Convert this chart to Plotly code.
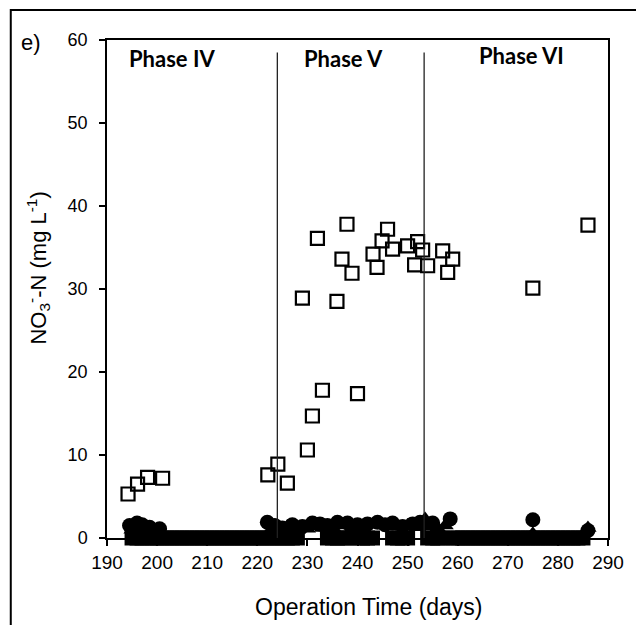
import plotly.graph_objects as go

# Open squares: NO3-N (mg/L)
sq_day = [194.2, 196.1, 198.1, 201.1, 222.1, 224.1, 226.0, 229.0, 230.0, 231.0,
          232.0, 233.0, 235.9, 236.9, 237.9, 238.9, 240.0, 243.1, 243.9, 244.9,
          246.0, 247.0, 250.0, 251.4, 252.0, 253.0, 254.0, 257.0, 258.0, 259.0,
          275.0, 286.0]
sq_val = [5.3, 6.5, 7.3, 7.2, 7.6, 8.9, 6.6, 28.9, 10.6, 14.7,
          36.1, 17.8, 28.5, 33.6, 37.8, 31.9, 17.4, 34.2, 32.6, 35.8,
          37.2, 34.8, 35.2, 32.9, 35.7, 34.7, 32.8, 34.6, 32.0, 33.6,
          30.1, 37.7]

# Filled circles
ci_day = [194.5, 196.0, 197.0, 198.5, 200.5, 222.0, 223.5, 225.0, 227.0, 229.0,
          231.0, 232.5, 234.0, 236.0, 238.0, 240.0, 242.0, 244.0, 245.5, 247.0,
          249.0, 251.0, 252.5, 255.0, 258.5, 275.0, 286.0]
ci_val = [1.5, 1.8, 1.6, 1.3, 1.1, 1.9, 1.5, 1.2, 1.6, 1.4,
          1.8, 1.7, 1.5, 1.9, 1.8, 1.6, 1.7, 1.9, 1.6, 1.8,
          1.4, 1.7, 1.9, 1.8, 2.3, 2.2, 0.9]

# Filled triangles
tr_day = [195.0, 197.5, 199.0, 223.0, 224.5, 226.0, 228.0, 230.0, 233.0, 235.0,
          237.0, 239.0, 241.0, 243.0, 246.0, 248.0, 250.0, 252.0, 253.5, 254.5,
          256.0, 257.5, 275.0, 286.0]
tr_val = [1.0, 1.2, 0.8, 1.2, 1.0, 1.4, 1.0, 1.1, 1.2, 1.3,
          1.5, 1.2, 1.3, 1.6, 1.5, 1.4, 1.5, 1.3, 2.3, 1.4,
          1.2, 1.5, 0.5, 1.2]

# Filled squares at zero (daily)
zero_day = (list(range(195, 229)) + [234, 235, 236, 237, 238, 240, 241, 242, 243,
            247, 248, 249, 250, 254, 255, 256, 257] + list(range(259, 286)))
zero_val = [0.0] * len(zero_day)

phase_names = ["Phase IV", "Phase V", "Phase VI"]
phase_label_x = [202.9, 237.3, 272.8]
phase_bounds = [224.0, 253.3]

fig = go.Figure()
fig.add_trace(go.Scatter(x=zero_day, y=zero_val, mode="markers", cliponaxis=False,
                         marker=dict(symbol="square", size=15, color="black")))
fig.add_trace(go.Scatter(x=tr_day, y=tr_val, mode="markers", cliponaxis=False,
                         marker=dict(symbol="triangle-up", size=15, color="black")))
fig.add_trace(go.Scatter(x=ci_day, y=ci_val, mode="markers", cliponaxis=False,
                         marker=dict(symbol="circle", size=15, color="black")))
fig.add_trace(go.Scatter(x=sq_day, y=sq_val, mode="markers", cliponaxis=False,
                         marker=dict(symbol="square-open", size=13, color="black",
                                     line=dict(width=2.2, color="black"))))

for xb in phase_bounds:
    fig.add_shape(type="line", xref="x", yref="y", x0=xb, x1=xb, y0=0, y1=58.5,
                  line=dict(color="#222222", width=1.3))

for name, xl in zip(phase_names, phase_label_x):
    fig.add_annotation(x=xl, y=(538 - 58) / 498 if name != "Phase VI" else (538 - 55) / 498,
                       xref="x", yref="paper", text="<b>%s</b>" % name, showarrow=False,
                       xanchor="center", yanchor="middle",
                       font=dict(family="Lato", size=22, color="black"))

# outer frame
fig.add_shape(type="rect", xref="paper", yref="paper",
              x0=(10 - 107) / 505, x1=1.2, y0=-0.3, y1=(538 - 10) / 498,
              line=dict(color="black", width=2))

fig.add_annotation(x=(30 - 107) / 505, y=(538 - 43) / 498, xref="paper", yref="paper",
                   text="e)", showarrow=False, xanchor="center", yanchor="middle",
                   font=dict(family="Arial", size=22, color="black"))
fig.add_annotation(x=(37 - 107) / 505, y=(538 - 268) / 498, xref="paper", yref="paper",
                   text="NO<sub>3</sub><sup>-</sup>-N (mg L<sup>-1</sup>)", textangle=-90,
                   showarrow=False, xanchor="center", yanchor="middle",
                   font=dict(family="Arial", size=22, color="black"))
fig.add_annotation(x=(371 - 107) / 505, y=(538 - 607) / 498, xref="paper", yref="paper",
                   text="Operation Time (days)", showarrow=False,
                   xanchor="center", yanchor="middle",
                   font=dict(family="Arial", size=23, color="black"))

fig.update_layout(
    width=636, height=625,
    margin=dict(l=107, r=24, t=40, b=87),
    paper_bgcolor="white", plot_bgcolor="white",
    showlegend=False,
    font=dict(family="Arial", size=18, color="black"),
    xaxis=dict(range=[190, 290], dtick=10, tick0=190, showgrid=False, zeroline=False,
               showline=True, linecolor="black", linewidth=1.5, mirror=True,
               ticks="outside", ticklen=6, tickcolor="black", tickwidth=1.5,
               tickfont=dict(size=19)),
    yaxis=dict(range=[0, 60], dtick=10, showgrid=False, zeroline=False,
               showline=True, linecolor="black", linewidth=1.5, mirror=True,
               ticks="outside", ticklen=6, tickcolor="black", tickwidth=1.5,
               ticklabelstandoff=8, tickfont=dict(size=18)),
)

fig.write_html("out.html")
